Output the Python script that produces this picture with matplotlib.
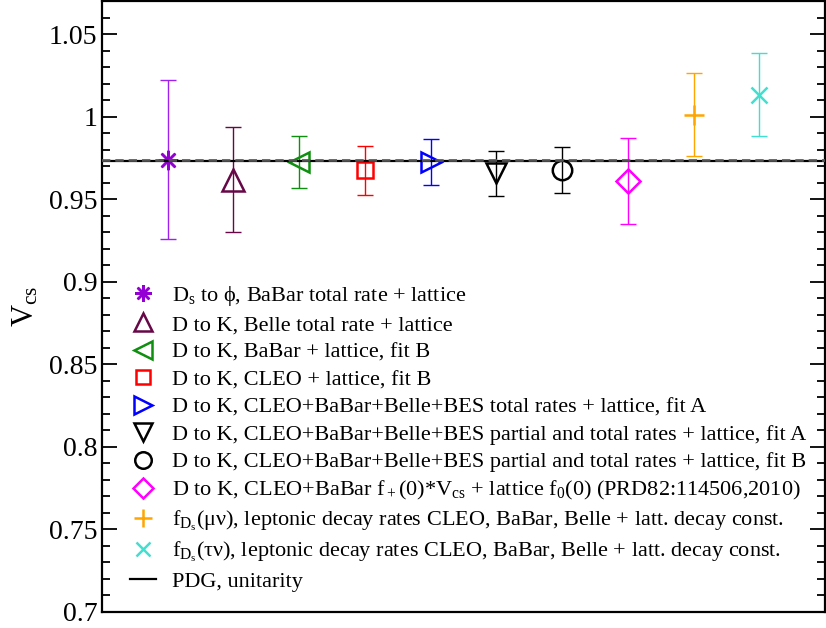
import matplotlib
matplotlib.use("Agg")
import matplotlib.pyplot as plt
from matplotlib.ticker import MultipleLocator

matplotlib.rcParams.update({
    'font.family': ['Liberation Serif', 'DejaVu Serif'],
    'mathtext.fontset': 'custom',
    'mathtext.rm': 'Liberation Serif',
    'mathtext.it': 'Liberation Serif',
    'mathtext.bf': 'Liberation Serif:bold',
})

xpos = [1, 2, 3, 4, 5, 6, 7, 8, 9, 10]
vcs = [0.974, 0.962, 0.9726, 0.9675, 0.9724, 0.9657, 0.968, 0.961, 1.0013, 1.0134]
err = [0.048, 0.032, 0.016, 0.015, 0.014, 0.0135, 0.014, 0.026, 0.025, 0.025]
labels = [
    r"D$_\mathrm{s}$ to ϕ, BaBar total rate + lattice",
    "D to K, Belle total rate + lattice",
    "D to K, BaBar + lattice, fit B",
    "D to K, CLEO + lattice, fit B",
    "D to K, CLEO+BaBar+Belle+BES total rates + lattice, fit A",
    "D to K, CLEO+BaBar+Belle+BES partial and total rates + lattice, fit A",
    "D to K, CLEO+BaBar+Belle+BES partial and total rates + lattice, fit B",
    r"D to K, CLEO+BaBar f$_+$(0)*V$_\mathrm{cs}$ + lattice f$_0$(0) (PRD82:114506,2010)",
    r"f$_{\mathrm{D}_\mathrm{s}}$(μν), leptonic decay rates CLEO, BaBar, Belle + latt. decay const.",
    r"f$_{\mathrm{D}_\mathrm{s}}$(τν), leptonic decay rates CLEO, BaBar, Belle + latt. decay const.",
]
pdg = 0.97345
pdg_err = 0.0003

markers = [(8, 2, 0), '^', '<', 's', '>', 'v', 'o', 'D', '+', 'x']
msizes = [14, 16, 15, 12, 15, 15, 14, 12, 15, 12]
colors = ['#9400D3', '#670748', '#0F8F0F', '#FF0000', '#0000FF',
          'black', 'black', '#FF00FF', '#FFA500', '#40E0D0']
barcolors = ['#A020F0', '#670748', '#0F8F0F', '#FF0000', '#0000FF',
             'black', 'black', '#FF00FF', '#FFA500', '#40E0D0']

fig = plt.figure(figsize=(8.26, 6.28), dpi=100)
ax = fig.add_axes([0.1235, 0.0255, 0.8755, 0.9725])

for i in range(len(xpos)):
    ax.errorbar(xpos[i], vcs[i], yerr=err[i], fmt='none', ecolor=barcolors[i],
                elinewidth=1.0, capsize=6, capthick=1.0, zorder=2)
    ax.plot(xpos[i], vcs[i], linestyle='none', marker=markers[i], ms=msizes[i],
            mfc='none', mec=colors[i], mew=1.8, label=labels[i], zorder=3)

ax.axhline(pdg, color='black', lw=1.6, label='PDG, unitarity', zorder=4)
ax.axhline(pdg + pdg_err, color='#555555', lw=1.2, ls=(0, (5, 3)), zorder=4)
ax.axhline(pdg - pdg_err, color='#555555', lw=1.2, ls=(0, (5, 3)), zorder=4)

ax.set_xlim(0, 11)
ax.set_ylim(0.7, 1.07)
ax.yaxis.set_minor_locator(MultipleLocator(0.01))
ax.set_yticks([0.7, 0.75, 0.8, 0.85, 0.9, 0.95, 1.0, 1.05])
ax.set_yticklabels(['0.7', '0.75', '0.8', '0.85', '0.9', '0.95', '1', '1.05'])
ax.tick_params(axis='y', which='both', direction='in', right=True, labelsize=20)
ax.tick_params(axis='y', which='major', length=11, width=1.3)
ax.tick_params(axis='y', which='minor', length=6, width=1.3)
ax.tick_params(axis='x', which='both', bottom=False, labelbottom=False)
for s in ax.spines.values():
    s.set_linewidth(1.6)

ax.set_ylabel(r"V$_\mathrm{cs}$", fontsize=22, labelpad=6)

leg = ax.legend(loc='upper left', bbox_to_anchor=(0.026, 0.552), frameon=False,
                fontsize=16, handlelength=1.2, handletextpad=0.7,
                labelspacing=0.31, borderaxespad=0.0, markerscale=0.85)

fig.savefig("out.png", dpi=100)
